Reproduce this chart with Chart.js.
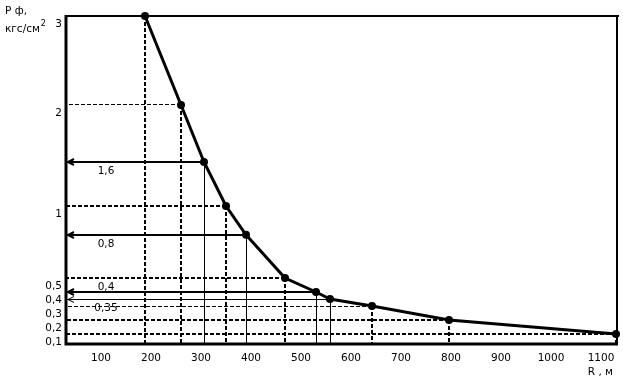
<!DOCTYPE html>
<html lang="ru">
<head>
<meta charset="UTF-8">
<title>Р ф от R</title>
<script src="https://cdn.jsdelivr.net/npm/chart.js"></script>
<style>
    body { margin: 0; background: #fff; }
    #wrap { width: 623px; height: 380px; }
</style>
</head>
<body>
<div id="wrap"><canvas id="grafik"></canvas></div>
<script>
// расстояние R, м
const rValues = [188, 260, 306, 350, 390, 468, 530, 558, 642, 796, 1130];
// давление Р ф, кгс/см2
const pValues = [3, 2, 1.6, 1, 0.8, 0.5, 0.4, 0.35, 0.3, 0.2, 0.1];

const xTicks = [100, 200, 300, 400, 500, 600, 700, 800, 900, 1000, 1100];
const yTicks = [0.1, 0.2, 0.3, 0.4, 0.5, 1, 2, 3];

// шкала по оси Р неравномерная (как на рисунке): значение -> доля высоты
const yScaleVals = [0.1, 0.5, 1, 1.6, 2, 3];
const yScaleFrac = [0.0305, 0.2012, 0.4207, 0.5549, 0.7287, 1];

// выноски от точек
const dropV = ['dash', 'dash', 'thin', 'dash', 'thin', 'dash', 'thin', 'thin', 'dash', 'dash', 'dash'];
const dropH = ['none', 'thinDash', 'arrow', 'dash', 'arrow', 'dash', 'arrow', 'thinArrow', 'thinDash', 'dash', 'dash'];
const arrowText = ['', '', '1,6', '', '0,8', '', '0,4', '0,35', '', '', ''];
const textAbove = [false, false, false, false, false, false, true, false, false, false, false];

const FONT = '10.5px "DejaVu Sans", sans-serif';

function seg(vals, v) {
    let i = 0;
    while (i < vals.length - 2 && v > vals[i + 1]) i++;
    return i;
}
function toFrac(v) {
    const i = seg(yScaleVals, v);
    const t = (v - yScaleVals[i]) / (yScaleVals[i + 1] - yScaleVals[i]);
    return yScaleFrac[i] + t * (yScaleFrac[i + 1] - yScaleFrac[i]);
}
function fromFrac(f) {
    const i = seg(yScaleFrac, f);
    const t = (f - yScaleFrac[i]) / (yScaleFrac[i + 1] - yScaleFrac[i]);
    return yScaleVals[i] + t * (yScaleVals[i + 1] - yScaleVals[i]);
}

class PScale extends Chart.LinearScale {
    getPixelForValue(v) {
        return v == null ? NaN : this.getPixelForDecimal(toFrac(v));
    }
    getValueForPixel(p) {
        return fromFrac(this.getDecimalForPixel(p));
    }
}
PScale.id = 'pscale';
PScale.defaults = Chart.LinearScale.defaults;
Chart.register(PScale);

function setLine(ctx, kind) {
    if (kind === 'dash') { ctx.lineWidth = 2; ctx.setLineDash([4, 2]); }
    else if (kind === 'thinDash') { ctx.lineWidth = 1; ctx.setLineDash([4, 2]); }
    else if (kind === 'arrow') { ctx.lineWidth = 2; ctx.setLineDash([]); }
    else { ctx.lineWidth = 1; ctx.setLineDash([]); }
}
function snap(v, w) {
    return w % 2 ? Math.round(v - 0.5) + 0.5 : Math.round(v);
}

const guides = {
    id: 'guides',
    beforeDatasetsDraw(chart) {
        const { ctx, chartArea: a, scales: { x, y } } = chart;
        ctx.save();
        ctx.strokeStyle = '#000';
        ctx.fillStyle = '#000';
        rValues.forEach((r, i) => {
            const px0 = x.getPixelForValue(r);
            const py0 = y.getPixelForValue(pValues[i]);
            // вертикальная
            setLine(ctx, dropV[i]);
            const px = snap(px0, ctx.lineWidth);
            ctx.beginPath();
            ctx.moveTo(px, py0);
            ctx.lineTo(px, a.bottom);
            ctx.stroke();
            // горизонтальная
            if (dropH[i] === 'none') return;
            setLine(ctx, dropH[i]);
            const py = snap(py0, ctx.lineWidth);
            ctx.beginPath();
            ctx.moveTo(px0, py);
            ctx.lineTo(a.left, py);
            ctx.stroke();
            if (dropH[i].toLowerCase().includes('arrow')) {
                ctx.setLineDash([]);
                const tip = a.left + 2;
                ctx.beginPath();
                ctx.moveTo(tip + 6, py - 3);
                ctx.lineTo(tip, py);
                ctx.lineTo(tip + 6, py + 3);
                ctx.stroke();
            }
            if (arrowText[i]) {
                ctx.font = FONT;
                ctx.textAlign = 'center';
                ctx.textBaseline = 'middle';
                const tx = a.left + 40;
                const ty = textAbove[i] ? py - 5 : py + 9;
                const w = ctx.measureText(arrowText[i]).width;
                ctx.fillStyle = '#fff';
                if (!textAbove[i]) ctx.fillRect(tx - w / 2 - 2, ty - 5, w + 4, 10);
                ctx.fillStyle = '#000';
                ctx.fillText(arrowText[i], tx, ty);
            }
        });
        ctx.restore();
    },
    afterDraw(chart) {
        const { ctx, chartArea: a } = chart;
        ctx.save();
        ctx.strokeStyle = '#000';
        ctx.setLineDash([]);
        // рамка
        ctx.lineWidth = 2;
        ctx.beginPath();
        ctx.moveTo(a.left, a.top);
        ctx.lineTo(a.right + 3, a.top);
        ctx.moveTo(a.right + 1, a.top);
        ctx.lineTo(a.right + 1, a.bottom);
        ctx.stroke();
        ctx.lineWidth = 3;
        ctx.beginPath();
        ctx.moveTo(a.left, a.top - 1);
        ctx.lineTo(a.left, a.bottom);
        ctx.lineTo(a.right + 2, a.bottom);
        ctx.stroke();
        // подписи осей
        ctx.fillStyle = '#000';
        ctx.font = FONT;
        ctx.textBaseline = 'middle';
        ctx.textAlign = 'left';
        ctx.fillText('Р ф,', 5, 11);
        ctx.fillText('кгс/см', 5, 29);
        const w = ctx.measureText('кгс/см').width;
        ctx.font = '8px "DejaVu Sans", sans-serif';
        ctx.fillText('2', 5 + w + 1, 24);
        ctx.font = FONT;
        ctx.textAlign = 'right';
        ctx.fillText('R , м', 613, 372);
        ctx.restore();
    }
};

new Chart(document.getElementById('grafik'), {
    type: 'line',
    data: {
        datasets: [{
            data: rValues.map((r, i) => ({ x: r, y: pValues[i] })),
            borderColor: '#000',
            backgroundColor: '#000',
            borderWidth: 3,
            pointRadius: 4,
            pointBackgroundColor: '#000',
            pointBorderWidth: 0,
            tension: 0,
            clip: false
        }]
    },
    options: {
        responsive: true,
        maintainAspectRatio: false,
        animation: false,
        layout: { padding: { left: 0, top: 16, right: 7, bottom: 0 } },
        plugins: { legend: { display: false }, tooltip: { enabled: false } },
        scales: {
            x: {
                type: 'linear',
                min: 30,
                max: 1130,
                grid: { display: false, drawTicks: false },
                border: { display: false },
                afterBuildTicks: s => { s.ticks = xTicks.map(v => ({ value: v })); },
                afterFit: s => { s.height = 36; },
                ticks: {
                    color: '#000',
                    font: { family: '"DejaVu Sans", sans-serif', size: 10.5 },
                    padding: 8,
                    maxRotation: 0,
                    autoSkip: false,
                    callback: v => String(v)
                }
            },
            y: {
                type: 'pscale',
                min: 0,
                max: 3,
                grid: { display: false, drawTicks: false },
                border: { display: false },
                afterBuildTicks: s => { s.ticks = yTicks.map(v => ({ value: v })); },
                afterFit: s => { s.width = 66; },
                ticks: {
                    color: '#000',
                    font: { family: '"DejaVu Sans", sans-serif', size: 10.5 },
                    padding: 4,
                    labelOffset: 8,
                    autoSkip: false,
                    callback: v => String(v).replace('.', ',')
                }
            }
        }
    },
    plugins: [guides]
});
</script>
</body>
</html>
